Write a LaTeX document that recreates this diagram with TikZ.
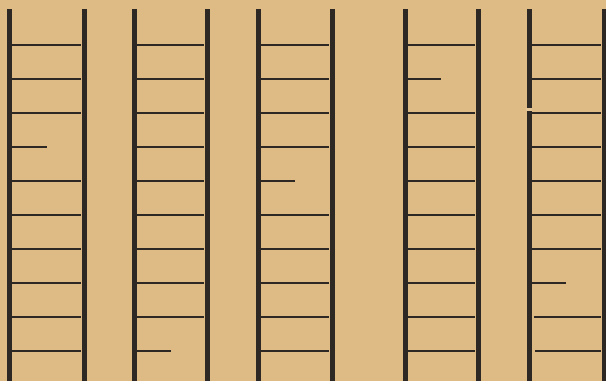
\documentclass[tikz,border=0pt]{standalone}
\definecolor{paper}{RGB}{222,187,133}
\definecolor{ink}{RGB}{45,40,35}
\tikzset{
  bar/.style={draw=ink,line width=5pt},
  rung/.style={draw=ink,line width=2.2pt},
}
\begin{document}
\begin{tikzpicture}[x=1pt,y=-1pt]
\fill[paper] (0,0) rectangle (606,381);
\useasboundingbox (0,0) rectangle (606,381);
% ladder bars
\foreach \xa/\xb in {9.5/84, 134/207, 258/332, 405/478.5, 529/604}{
  \draw[bar] (\xa,9) -- (\xa,381);
  \draw[bar] (\xb,9) -- (\xb,381);
}
% ladder 1 (short rung 4)
\foreach \yy in {45,79,113,181,215,249,283,317,351}
  \draw[rung] (12,\yy) -- (80.5,\yy);
\draw[rung] (12,147) -- (47,147);
% ladder 2 (short rung 10)
\foreach \yy in {45,79,113,147,181,215,249,283,317}
  \draw[rung] (136.5,\yy) -- (203.5,\yy);
\draw[rung] (136.5,351) -- (171,351);
% ladder 3 (short rung 5)
\foreach \yy in {45,79,113,147,215,249,283,317,351}
  \draw[rung] (260.5,\yy) -- (328.5,\yy);
\draw[rung] (260.5,181) -- (295,181);
% ladder 4 (short rung 2)
\foreach \yy in {45,113,147,181,215,249,283,317,351}
  \draw[rung] (407.5,\yy) -- (475,\yy);
\draw[rung] (407.5,79) -- (441,79);
% ladder 5 (short rung 8)
\foreach \yy in {45,79,113,147,181,215,249}
  \draw[rung] (531.5,\yy) -- (600.5,\yy);
\draw[rung] (531.5,283) -- (566,283);
\draw[rung] (534,317) -- (600.5,317);
\draw[rung] (535,351) -- (600.5,351);
% small break in left bar of ladder 5
\fill[paper!85!white] (526,107.5) rectangle (532,110.5);
\end{tikzpicture}
\end{document}
